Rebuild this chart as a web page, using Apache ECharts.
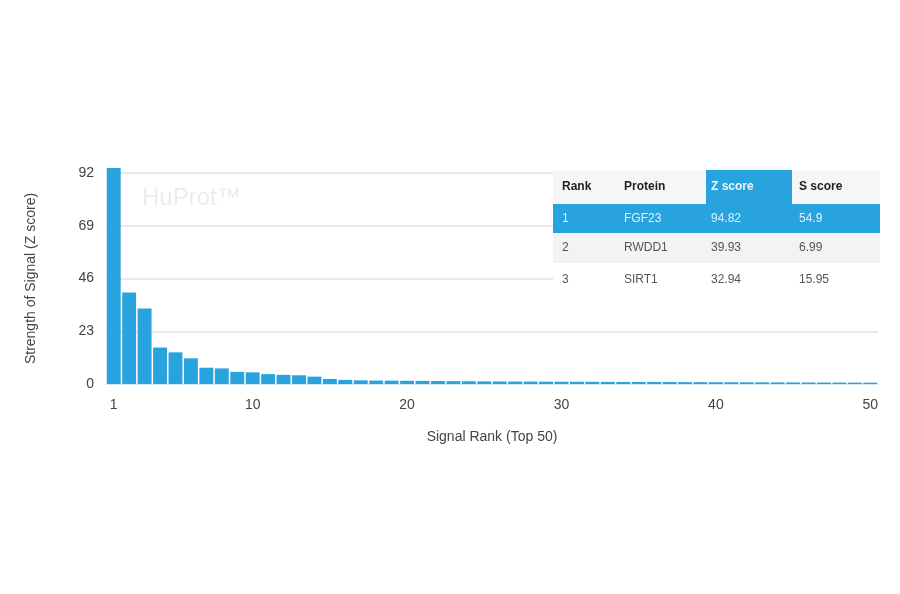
<!DOCTYPE html>
<html>
<head>
<meta charset="utf-8">
<script src="https://cdn.jsdelivr.net/npm/echarts@6/dist/echarts.min.js"></script>
<style>html,body{margin:0;padding:0;background:#fff}#c{width:900px;height:594px}</style>
</head>
<body>
<div id="c"></div>
<script>
var ranks = [];
for (var i = 1; i <= 50; i++) ranks.push(String(i));
var zScores = [94.2, 39.93, 32.94, 15.9, 13.8, 11.2, 7.1, 6.8, 5.3, 5.1,
  4.3, 4.0, 3.8, 3.2, 2.2, 1.8, 1.6, 1.5, 1.45, 1.4,
  1.35, 1.3, 1.25, 1.2, 1.15, 1.1, 1.08, 1.05, 1.02, 1.0,
  0.98, 0.95, 0.92, 0.9, 0.88, 0.86, 0.84, 0.82, 0.8, 0.78,
  0.76, 0.74, 0.72, 0.7, 0.68, 0.66, 0.64, 0.62, 0.6, 0.58];
var yTicks = [0, 23, 46, 69, 92];
var xLabelRanks = ['1', '10', '20', '30', '40', '50'];

var tableHeader = ['Rank', 'Protein', 'Z score', 'S score'];
var tableRank = ['1', '2', '3'];
var tableProtein = ['FGF23', 'RWDD1', 'SIRT1'];
var tableZ = ['94.82', '39.93', '32.94'];
var tableS = ['54.9', '6.99', '15.95'];

var chart = echarts.init(document.getElementById('c'));
var blue = '#29a3dd';
var font = "'Liberation Sans', Arial, sans-serif";

var colX = [562, 624, 711, 799];
var tLeft = 553, tRight = 880;
var rowTops = [170, 204, 233, 263];
var rowH = [34, 29, 30, 34];
var g = [];
g.push({type:'rect', shape:{x:tLeft, y:rowTops[0], width:tRight-tLeft, height:rowH[0]}, style:{fill:'#f6f6f6'}, z:10});
g.push({type:'rect', shape:{x:706, y:rowTops[0], width:86, height:rowH[0]}, style:{fill:blue}, z:11});
var rowFill = [blue, '#f3f3f3', '#ffffff'];
for (var r = 0; r < 3; r++) {
  g.push({type:'rect', shape:{x:tLeft, y:rowTops[r+1], width:tRight-tLeft, height:rowH[r+1]}, style:{fill:rowFill[r]}, z:10});
}
for (var c = 0; c < 4; c++) {
  g.push({type:'text', x:colX[c], y:rowTops[0]+rowH[0]/2, style:{text:tableHeader[c], fill: c===2?'#e8f6fd':'#222', font:'bold 12px '+font, verticalAlign:'middle'}, z:12});
}
var cols = [tableRank, tableProtein, tableZ, tableS];
for (var r = 0; r < 3; r++) {
  for (var c = 0; c < 4; c++) {
    g.push({type:'text', x:colX[c], y:rowTops[r+1]+rowH[r+1]/2, style:{text:cols[c][r], fill: r===0?'#dff2fc':'#555', font:'12px '+font, verticalAlign:'middle'}, z:12});
  }
}
g.push({type:'text', x:142, y:198, style:{text:'HuProt\u2122', fill:'#ececec', font:'24px '+font, verticalAlign:'middle'}, z:1});

chart.setOption({
  animation: false,
  grid: {left:106, right:22, top:173, bottom:210},
  xAxis: {
    type:'category', data: ranks, boundaryGap:true,
    name:'Signal Rank (Top 50)', nameLocation:'middle', nameGap:46,
    nameTextStyle:{fontSize:14, color:'#444', fontFamily:font},
    axisTick:{show:false},
    axisLine:{show:true, lineStyle:{color:'#d6eaf5'}},
    axisLabel:{fontSize:14, color:'#444', fontFamily:font, margin:14,
      interval:function(idx, val){ return xLabelRanks.indexOf(val) >= 0; }}
  },
  yAxis: {
    type:'value', min:0, max:92, interval:23,
    name:'Strength of Signal (Z score)', nameLocation:'middle', nameGap:68,
    nameTextStyle:{fontSize:14, color:'#444', fontFamily:font},
    axisLine:{show:false}, axisTick:{show:false},
    axisLabel:{fontSize:14, color:'#444', fontFamily:font, margin:12,
      formatter:function(v){ return yTicks.indexOf(v) >= 0 ? String(v) : ''; }},
    splitLine:{lineStyle:{color:'#e2e2e2', width:1.5}}
  },
  series: [{
    type:'bar', data: zScores, barCategoryGap:'10%', clip:false,
    itemStyle:{color: blue}
  }],
  graphic: g
});
</script>
</body>
</html>
